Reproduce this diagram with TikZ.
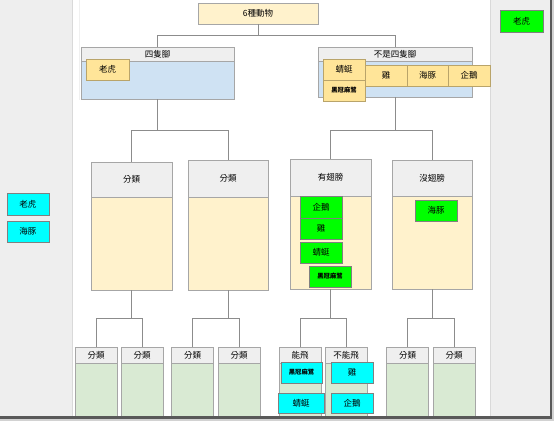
\documentclass[tikz,border=0pt]{standalone}
\usepackage{fontspec}
\setmainfont{Noto Sans CJK TC}
\usetikzlibrary{positioning}
\definecolor{panelgray}{HTML}{EEEEEE}
\definecolor{headgray}{HTML}{EFEFEF}
\definecolor{framegray}{HTML}{A6A6A6}
\definecolor{linegray}{HTML}{8C8C8C}
\definecolor{rootfill}{HTML}{FFF2CC}
\definecolor{bluefill}{HTML}{CFE2F3}
\definecolor{orangefill}{HTML}{FFE599}
\definecolor{orangeframe}{HTML}{B9A46A}
\definecolor{creamfill}{HTML}{FFF2CC}
\definecolor{leaffill}{HTML}{D9EAD3}
\definecolor{greenfill}{HTML}{00FF00}
\definecolor{cyanfill}{HTML}{00FFFF}

\begin{document}
\begin{tikzpicture}[x=1pt,y=-1pt,
  every node/.style={inner sep=0pt,font=\fontsize{8.5}{9}\selectfont},
  line/.style={draw=linegray,line width=0.6pt},
  frame/.style={draw=framegray,line width=0.6pt},
  head/.style={frame,fill=headgray},
  card/.style={frame,minimum width=42pt,minimum height=21pt},
  orange/.style={card,fill=orangefill,draw=orangeframe},
  green/.style={card,fill=greenfill,draw=gray},
  cyan/.style={card,fill=cyanfill,draw=gray},
  tiny/.style={font=\fontsize{6.3}{7}\selectfont\bfseries}]
  \useasboundingbox (0,0) rectangle (554,421);
  % window panels
  \fill[gray!35] (0,0) rectangle (554,421);
  \fill[panelgray] (0,0) rectangle (550,416);
  \fill[white] (72,0) rectangle (490,416);
  \draw[gray!30] (72,0) -- (72,416);
  \draw[gray!30] (490,0) -- (490,416);
  \draw[gray!12] (79,0) -- (79,100);
  \fill[gray!45] (489,65) rectangle (491,87);

  % top
  \node[frame,fill=rootfill,minimum width=120pt,minimum height=21pt] (root) at (258,13.5) {6種動物};

  % four legs / not four legs
  \node[frame,fill=bluefill,minimum width=153pt,minimum height=52pt] (legs) at (157.5,73) {};
  \node[head,minimum width=153pt,minimum height=14pt] (legsh) at (157.5,54) {四隻腳};
  \node[orange,minimum width=43pt] (tiger) at (107.5,69.5) {老虎};
  \node[frame,fill=bluefill,minimum width=154pt,minimum height=50pt] (nolegs) at (395,72) {};
  \node[head,minimum width=154pt,minimum height=14pt] (nolegsh) at (395,54) {不是四隻腳};
  \node[orange] (dfly) at (344,69.5) {蜻蜓};
  \node[orange,tiny] (heron) at (344,90.5) {黑冠麻鷺};
  \node[orange] (chick) at (386,75.5) {雞};
  \node[orange,minimum width=41pt] (dolph) at (427.5,75.5) {海豚};
  \node[orange] (peng) at (469,75.5) {企鵝};
  \draw[line] (root.south) -- ++(0,11) -| (legsh.north);
  \draw[line] (root.south) -- ++(0,11) -| (nolegsh.north);

  % second level
  \node[frame,fill=creamfill,minimum width=81pt,minimum height=128pt] (cat1) at (131.5,226) {};
  \node[head,minimum width=81pt,minimum height=35pt] (cat1h) at (131.5,179.5) {分類};
  \node[frame,fill=creamfill,minimum width=80pt,minimum height=130pt] (cat2) at (228,225) {};
  \node[head,minimum width=80pt,minimum height=37pt] (cat2h) at (228,178.5) {分類};
  \node[frame,fill=creamfill,minimum width=81pt,minimum height=130pt] (wing) at (330.5,224) {};
  \node[head,minimum width=81pt,minimum height=37pt] (wingh) at (330.5,177.5) {有翅膀};
  \node[frame,fill=creamfill,minimum width=80pt,minimum height=129pt] (nowing) at (432,224.5) {};
  \node[head,minimum width=80pt,minimum height=36pt] (nowingh) at (432,178) {沒翅膀};
  \draw[line] (legs.south) -- ++(0,31) -| (cat1h.north);
  \draw[line] (legs.south) -- ++(0,31) -| (cat2h.north);
  \draw[line] (nolegs.south) -- ++(0,33) -| (wingh.north);
  \draw[line] (nolegs.south) -- ++(0,33) -| (nowingh.north);
  \node[green,minimum height=22pt] (wpeng) at (321,207) {企鵝};
  \node[green] (wchick) at (321,228.5) {雞};
  \node[green] (wdfly) at (321,252.5) {蜻蜓};
  \node[green,tiny] (wheron) at (330,276.5) {黑冠麻鷺};
  \node[green] (nwdolph) at (436,210.5) {海豚};

  % third level
  \foreach \n/\x/\t in {a1/96/分類,a2/142/分類,b1/192.5/分類,b2/239/分類,
                        f1/300/能飛,f2/346/不能飛,d1/407.5/分類,d2/454/分類}{
    \node[frame,fill=leaffill,minimum width=42pt,minimum height=69pt] (\n) at (\x,381.5) {};
    \node[head,minimum width=42pt,minimum height=16pt] (\n h) at (\x,355) {\t};
  }
  \draw[line] (cat1.south) -- ++(0,28) -| (a1h.north);
  \draw[line] (cat1.south) -- ++(0,28) -| (a2h.north);
  \draw[line] (cat2.south) -- ++(0,28) -| (b1h.north);
  \draw[line] (cat2.south) -- ++(0,28) -| (b2h.north);
  \draw[line] (wing.south) -- ++(0,29) -| (f1h.north);
  \draw[line] (wing.south) -- ++(0,29) -| (f2h.north);
  \draw[line] (nowing.south) -- ++(0,29) -| (d1h.north);
  \draw[line] (nowing.south) -- ++(0,29) -| (d2h.north);
  \node[cyan,tiny,minimum width=41pt] (fheron) at (301.5,372.5) {黑冠麻鷺};
  \node[cyan] (fchick) at (352,372.5) {雞};
  \node[cyan,minimum width=46pt,minimum height=20pt] (fdfly) at (301,403) {蜻蜓};
  \node[cyan,minimum height=20pt] (fpeng) at (352,403) {企鵝};

  % side panels
  \node[cyan,minimum height=22pt] (ltiger) at (28,204) {老虎};
  \node[cyan] (ldolph) at (28,231.5) {海豚};
  \node[green,minimum width=43pt,minimum height=22pt] (rtiger) at (521.5,21) {老虎};

  % window shadow
  \fill[gray!70!black] (0,416) rectangle (552,418.5);
  \fill[gray!70!black] (550,0) rectangle (552,418.5);
\end{tikzpicture}
\end{document}
